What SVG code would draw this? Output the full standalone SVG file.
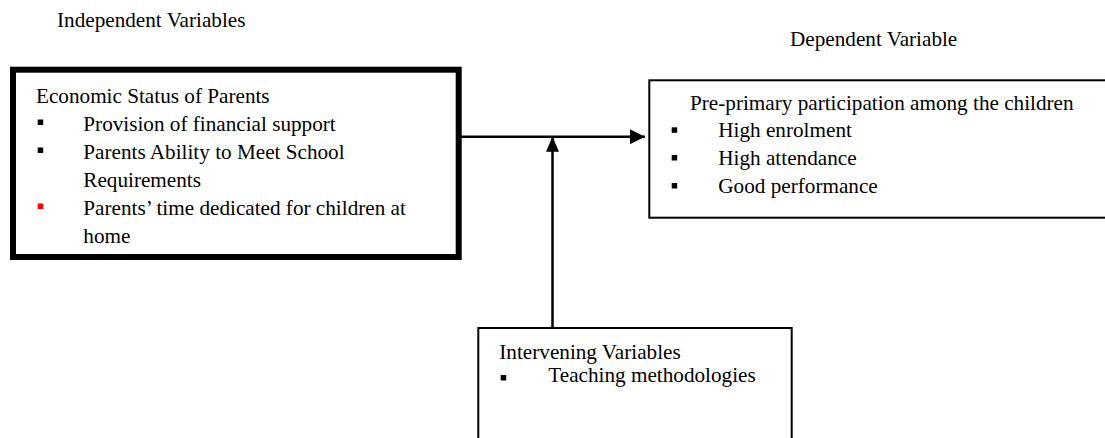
<svg xmlns="http://www.w3.org/2000/svg" width="1105" height="438" viewBox="0 0 1105 438">
<defs>
<style>
.t{font-family:"Liberation Serif","Times New Roman",serif;font-size:21.2px;fill:#000}
.box{fill:#fff;stroke:#000}
.conn{stroke:#000;stroke-width:2.5;fill:none}
.b{fill:#000}
.r{fill:#ff0000}
</style>
<marker id="ah" markerWidth="15" markerHeight="15" viewBox="0 0 15 15" refX="15" refY="7.5" orient="auto" markerUnits="userSpaceOnUse">
<path d="M0,0 L15,7.5 L0,15 Z" fill="#000"/>
</marker>
<marker id="ah2" markerWidth="15" markerHeight="13" viewBox="0 0 15 13" refX="15" refY="6.5" orient="auto" markerUnits="userSpaceOnUse">
<path d="M0,0 L15,6.5 L0,13 Z" fill="#000"/>
</marker>
</defs>
<rect width="1105" height="438" fill="#fff"/>
<text class="t" x="57" y="27">Independent Variables</text>
<text class="t" x="790" y="46">Dependent Variable</text>
<g id="connectors">
<line class="conn" x1="461" y1="136.7" x2="645" y2="136.7" marker-end="url(#ah)"/>
<line class="conn" x1="552.5" y1="328" x2="552.5" y2="136.7" marker-end="url(#ah2)"/>
</g>
<g id="independent">
<rect class="box" x="13" y="69.7" width="445.7" height="187.3" stroke-width="6"/>
<text class="t" x="36" y="103">Economic Status of Parents</text>
<rect class="b" x="37.7" y="119.5" width="5.5" height="5.5"/>
<text class="t" x="83.3" y="130.5">Provision of financial support</text>
<rect class="b" x="37.7" y="147.5" width="5.5" height="5.5"/>
<text class="t" x="83.3" y="158.5">Parents Ability to Meet School</text>
<text class="t" x="83.3" y="186.5">Requirements</text>
<rect class="r" x="37.7" y="203.5" width="5.5" height="5.5"/>
<text class="t" x="83.3" y="214.5">Parents’ time dedicated for children at</text>
<text class="t" x="83.3" y="242.5">home</text>
</g>
<g id="dependent">
<rect class="box" x="649.3" y="80.3" width="470" height="137.4" stroke-width="2"/>
<text class="t" x="690" y="110">Pre-primary participation among the children</text>
<rect class="b" x="671.7" y="127.3" width="5.5" height="5.5"/>
<text class="t" x="718.3" y="137">High enrolment</text>
<rect class="b" x="671.7" y="155" width="5.5" height="5.5"/>
<text class="t" x="718.3" y="164.5">High attendance</text>
<rect class="b" x="671.7" y="183" width="5.5" height="5.5"/>
<text class="t" x="718.3" y="192.5">Good performance</text>
</g>
<g id="intervening">
<rect class="box" x="478.3" y="328" width="313.4" height="130" stroke-width="2"/>
<text class="t" x="499.3" y="358.5">Intervening Variables</text>
<rect class="b" x="500.7" y="375" width="5.5" height="5.5"/>
<text class="t" x="548.3" y="382">Teaching methodologies</text>
</g>
</svg>
